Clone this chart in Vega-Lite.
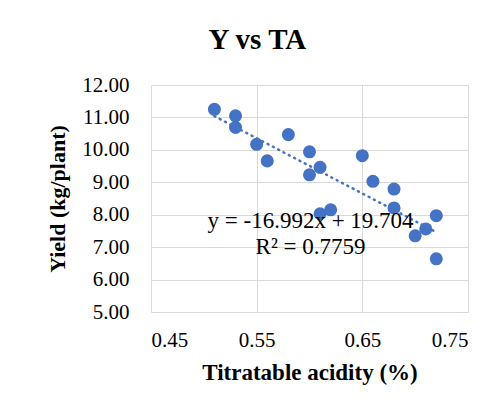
{
  "$schema": "https://vega.github.io/schema/vega-lite/v6.json",
  "autosize": "none",
  "width": 317,
  "height": 227,
  "padding": {"left": 151, "top": 85, "right": 30, "bottom": 105},
  "background": "white",
  "title": {
    "text": "Y vs TA",
    "font": "Liberation Serif",
    "fontSize": 29,
    "fontWeight": "bold",
    "color": "black",
    "anchor": "middle",
    "frame": "bounds",
    "offset": 19
  },
  "datasets": {
    "pts": [
      {"ta": 0.51, "yield": 11.25},
      {"ta": 0.53, "yield": 11.05},
      {"ta": 0.53, "yield": 10.69},
      {"ta": 0.55, "yield": 10.17},
      {"ta": 0.56, "yield": 9.66},
      {"ta": 0.58, "yield": 10.47},
      {"ta": 0.60, "yield": 9.94},
      {"ta": 0.60, "yield": 9.23},
      {"ta": 0.61, "yield": 9.46},
      {"ta": 0.61, "yield": 8.03},
      {"ta": 0.62, "yield": 8.15},
      {"ta": 0.65, "yield": 9.82},
      {"ta": 0.66, "yield": 9.03},
      {"ta": 0.68, "yield": 8.79},
      {"ta": 0.68, "yield": 8.21},
      {"ta": 0.70, "yield": 7.35},
      {"ta": 0.71, "yield": 7.56},
      {"ta": 0.72, "yield": 7.97},
      {"ta": 0.72, "yield": 6.64}
    ],
    "notes": [
      {"ta": 0.601, "yield": 7.81, "label": "y = -16.992x + 19.704"},
      {"ta": 0.601, "yield": 7.01, "label": "R² = 0.7759"}
    ]
  },
  "encoding": {
    "x": {
      "field": "ta",
      "type": "quantitative",
      "scale": {"domain": [0.45, 0.75], "nice": false, "zero": false},
      "axis": {"values": [0.45, 0.55, 0.65, 0.75], "format": ".2f", "title": "Titratable acidity (%)", "labelPadding": 17, "titlePadding": 11, "titleFontSize": 23}
    },
    "y": {
      "field": "yield",
      "type": "quantitative",
      "scale": {"domain": [5, 12], "nice": false, "zero": false},
      "axis": {"values": [5, 6, 7, 8, 9, 10, 11, 12], "tickCount": 8, "format": ".2f", "title": "Yield (kg/plant)", "labelPadding": 22, "titlePadding": 12, "titleFontSize": 22, "labelOverlap": false}
    }
  },
  "layer": [
    {
      "data": {"name": "pts"},
      "transform": [{"regression": "yield", "on": "ta", "method": "linear"}],
      "mark": {"type": "line", "color": "#4472C4", "strokeWidth": 2.5, "strokeDash": [1, 5], "strokeCap": "round"}
    },
    {
      "data": {"name": "pts"},
      "mark": {"type": "circle", "size": 170, "color": "#4472C4", "opacity": 1}
    },
    {
      "data": {"name": "notes"},
      "mark": {"type": "text", "font": "Liberation Serif", "fontSize": 23, "color": "#000000", "align": "center", "baseline": "middle"},
      "encoding": {
        "text": {"field": "label"}
      }
    }
  ],
  "config": {
    "view": {"stroke": null},
    "axis": {
      "domain": false,
      "ticks": false,
      "grid": true,
      "gridColor": "#d9d9d9",
      "gridWidth": 1,
      "labelFont": "Liberation Serif",
      "labelFontSize": 21,
      "labelColor": "#000000",
      "labelOverlap": false,
      "labelBound": false,
      "titleFont": "Liberation Serif",
      "titleFontWeight": "bold",
      "titleColor": "#000000"
    }
  }
}
